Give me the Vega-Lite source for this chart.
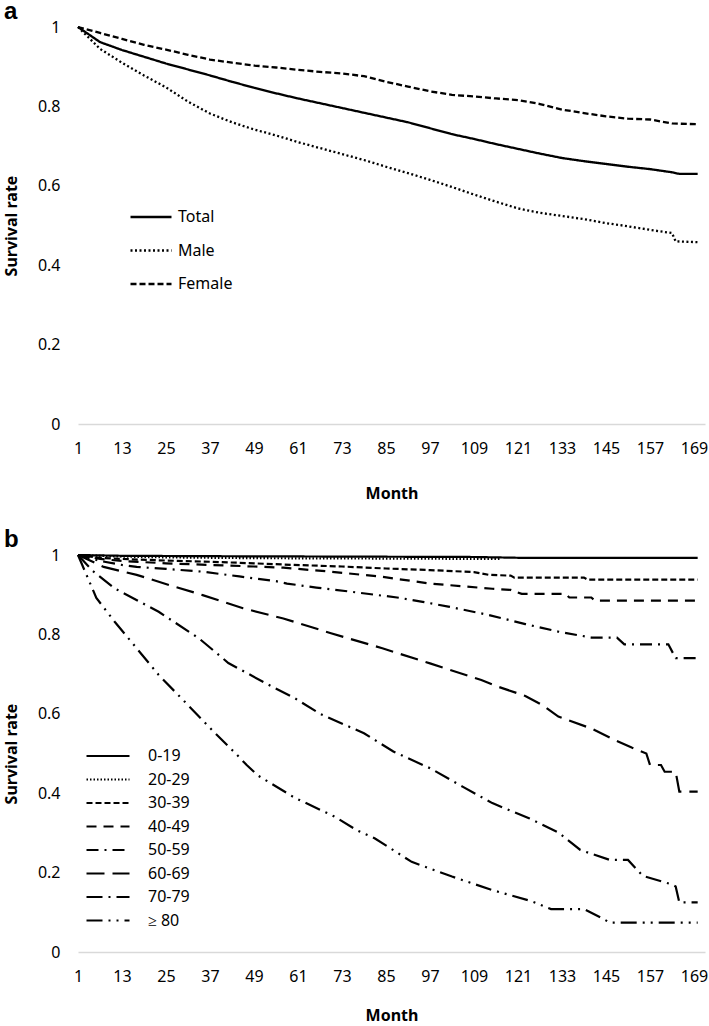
{
  "$schema": "https://vega.github.io/schema/vega-lite/v6.json",
  "padding": {"left": 3, "top": 0, "right": 0, "bottom": 0},
  "background": "white",
  "config": {"view": {"stroke": null}, "font": "Noto Sans"},
  "spacing": 27,
  "resolve": {"scale": {"strokeDash": "independent", "x": "independent", "y": "independent"}, "legend": {"strokeDash": "independent"}},
  "datasets": {
    "a": [
      {"g":"Total","m":1,"s":1},{"g":"Total","m":7,"s":0.962},{"g":"Total","m":13,"s":0.942},{"g":"Total","m":19,"s":0.925},{"g":"Total","m":25,"s":0.908},{"g":"Total","m":31,"s":0.893},{"g":"Total","m":37,"s":0.878},{"g":"Total","m":43,"s":0.862},{"g":"Total","m":49,"s":0.847},{"g":"Total","m":55,"s":0.833},{"g":"Total","m":61,"s":0.82},{"g":"Total","m":67,"s":0.808},{"g":"Total","m":73,"s":0.796},{"g":"Total","m":79,"s":0.784},{"g":"Total","m":85,"s":0.772},{"g":"Total","m":91,"s":0.76},{"g":"Total","m":97,"s":0.745},{"g":"Total","m":103,"s":0.73},{"g":"Total","m":109,"s":0.718},{"g":"Total","m":115,"s":0.705},{"g":"Total","m":121,"s":0.693},{"g":"Total","m":127,"s":0.681},{"g":"Total","m":133,"s":0.67},{"g":"Total","m":139,"s":0.662},{"g":"Total","m":145,"s":0.655},{"g":"Total","m":151,"s":0.648},{"g":"Total","m":157,"s":0.642},{"g":"Total","m":163,"s":0.634},{"g":"Total","m":165,"s":0.63},{"g":"Total","m":170,"s":0.63},
      {"g":"Male","m":1,"s":1},{"g":"Male","m":7,"s":0.945},{"g":"Male","m":13,"s":0.91},{"g":"Male","m":19,"s":0.878},{"g":"Male","m":25,"s":0.848},{"g":"Male","m":31,"s":0.812},{"g":"Male","m":37,"s":0.782},{"g":"Male","m":43,"s":0.76},{"g":"Male","m":49,"s":0.742},{"g":"Male","m":55,"s":0.727},{"g":"Male","m":61,"s":0.71},{"g":"Male","m":67,"s":0.695},{"g":"Male","m":73,"s":0.68},{"g":"Male","m":79,"s":0.665},{"g":"Male","m":85,"s":0.648},{"g":"Male","m":91,"s":0.632},{"g":"Male","m":97,"s":0.615},{"g":"Male","m":103,"s":0.597},{"g":"Male","m":109,"s":0.578},{"g":"Male","m":115,"s":0.56},{"g":"Male","m":121,"s":0.543},{"g":"Male","m":127,"s":0.532},{"g":"Male","m":133,"s":0.524},{"g":"Male","m":139,"s":0.516},{"g":"Male","m":145,"s":0.506},{"g":"Male","m":151,"s":0.498},{"g":"Male","m":157,"s":0.489},{"g":"Male","m":163,"s":0.481},{"g":"Male","m":164,"s":0.46},{"g":"Male","m":170,"s":0.458},
      {"g":"Female","m":1,"s":1},{"g":"Female","m":7,"s":0.985},{"g":"Female","m":13,"s":0.97},{"g":"Female","m":19,"s":0.955},{"g":"Female","m":25,"s":0.943},{"g":"Female","m":31,"s":0.93},{"g":"Female","m":37,"s":0.918},{"g":"Female","m":43,"s":0.91},{"g":"Female","m":49,"s":0.903},{"g":"Female","m":55,"s":0.898},{"g":"Female","m":61,"s":0.892},{"g":"Female","m":67,"s":0.887},{"g":"Female","m":73,"s":0.883},{"g":"Female","m":79,"s":0.876},{"g":"Female","m":85,"s":0.862},{"g":"Female","m":91,"s":0.85},{"g":"Female","m":97,"s":0.838},{"g":"Female","m":103,"s":0.829},{"g":"Female","m":109,"s":0.825},{"g":"Female","m":115,"s":0.82},{"g":"Female","m":121,"s":0.816},{"g":"Female","m":127,"s":0.806},{"g":"Female","m":133,"s":0.792},{"g":"Female","m":139,"s":0.783},{"g":"Female","m":145,"s":0.775},{"g":"Female","m":151,"s":0.769},{"g":"Female","m":157,"s":0.767},{"g":"Female","m":163,"s":0.757},{"g":"Female","m":170,"s":0.755}
    ],
    "b": [
      {"g":"0-19","m":1,"s":1},{"g":"0-19","m":13,"s":0.998},{"g":"0-19","m":37,"s":0.997},{"g":"0-19","m":73,"s":0.996},{"g":"0-19","m":109,"s":0.995},{"g":"0-19","m":121,"s":0.993},{"g":"0-19","m":170,"s":0.993},
      {"g":"20-29","m":1,"s":1},{"g":"20-29","m":13,"s":0.996},{"g":"20-29","m":25,"s":0.994},{"g":"20-29","m":49,"s":0.992},{"g":"20-29","m":85,"s":0.991},{"g":"20-29","m":116,"s":0.99},
      {"g":"30-39","m":1,"s":1},{"g":"30-39","m":7,"s":0.993},{"g":"30-39","m":13,"s":0.99},{"g":"30-39","m":25,"s":0.986},{"g":"30-39","m":37,"s":0.983},{"g":"30-39","m":49,"s":0.979},{"g":"30-39","m":57,"s":0.976},{"g":"30-39","m":73,"s":0.971},{"g":"30-39","m":85,"s":0.966},{"g":"30-39","m":97,"s":0.962},{"g":"30-39","m":109,"s":0.957},{"g":"30-39","m":113,"s":0.95},{"g":"30-39","m":119,"s":0.948},{"g":"30-39","m":120,"s":0.943},{"g":"30-39","m":139,"s":0.943},{"g":"30-39","m":140,"s":0.938},{"g":"30-39","m":170,"s":0.938},
      {"g":"40-49","m":1,"s":1},{"g":"40-49","m":7,"s":0.99},{"g":"40-49","m":13,"s":0.985},{"g":"40-49","m":25,"s":0.979},{"g":"40-49","m":37,"s":0.975},{"g":"40-49","m":49,"s":0.971},{"g":"40-49","m":57,"s":0.968},{"g":"40-49","m":70,"s":0.958},{"g":"40-49","m":84,"s":0.945},{"g":"40-49","m":97,"s":0.928},{"g":"40-49","m":114,"s":0.915},{"g":"40-49","m":119,"s":0.912},{"g":"40-49","m":122,"s":0.902},{"g":"40-49","m":134,"s":0.902},{"g":"40-49","m":135,"s":0.893},{"g":"40-49","m":141,"s":0.893},{"g":"40-49","m":142,"s":0.885},{"g":"40-49","m":170,"s":0.885},
      {"g":"50-59","m":1,"s":1},{"g":"50-59","m":7,"s":0.985},{"g":"50-59","m":13,"s":0.975},{"g":"50-59","m":17,"s":0.97},{"g":"50-59","m":25,"s":0.965},{"g":"50-59","m":35,"s":0.958},{"g":"50-59","m":45,"s":0.946},{"g":"50-59","m":55,"s":0.934},{"g":"50-59","m":58,"s":0.928},{"g":"50-59","m":66,"s":0.918},{"g":"50-59","m":75,"s":0.908},{"g":"50-59","m":88,"s":0.893},{"g":"50-59","m":95,"s":0.882},{"g":"50-59","m":102,"s":0.87},{"g":"50-59","m":113,"s":0.849},{"g":"50-59","m":123,"s":0.826},{"g":"50-59","m":132,"s":0.807},{"g":"50-59","m":141,"s":0.792},{"g":"50-59","m":148,"s":0.792},{"g":"50-59","m":150,"s":0.775},{"g":"50-59","m":162,"s":0.775},{"g":"50-59","m":164,"s":0.74},{"g":"50-59","m":170,"s":0.74},
      {"g":"60-69","m":1,"s":1},{"g":"60-69","m":8,"s":0.97},{"g":"60-69","m":17,"s":0.95},{"g":"60-69","m":26,"s":0.924},{"g":"60-69","m":35,"s":0.899},{"g":"60-69","m":46,"s":0.866},{"g":"60-69","m":57,"s":0.84},{"g":"60-69","m":70,"s":0.803},{"g":"60-69","m":84,"s":0.765},{"g":"60-69","m":97,"s":0.727},{"g":"60-69","m":111,"s":0.685},{"g":"60-69","m":115,"s":0.67},{"g":"60-69","m":123,"s":0.645},{"g":"60-69","m":128,"s":0.62},{"g":"60-69","m":132,"s":0.593},{"g":"60-69","m":141,"s":0.563},{"g":"60-69","m":146,"s":0.54},{"g":"60-69","m":152,"s":0.515},{"g":"60-69","m":156,"s":0.5},{"g":"60-69","m":157,"s":0.471},{"g":"60-69","m":160,"s":0.471},{"g":"60-69","m":161,"s":0.454},{"g":"60-69","m":164,"s":0.454},{"g":"60-69","m":165,"s":0.404},{"g":"60-69","m":170,"s":0.404},
      {"g":"70-79","m":1,"s":1},{"g":"70-79","m":5,"s":0.96},{"g":"70-79","m":11,"s":0.916},{"g":"70-79","m":23,"s":0.857},{"g":"70-79","m":34,"s":0.79},{"g":"70-79","m":42,"s":0.728},{"g":"70-79","m":54,"s":0.668},{"g":"70-79","m":60,"s":0.64},{"g":"70-79","m":67,"s":0.6},{"g":"70-79","m":79,"s":0.551},{"g":"70-79","m":87,"s":0.505},{"g":"70-79","m":97,"s":0.463},{"g":"70-79","m":106,"s":0.416},{"g":"70-79","m":114,"s":0.375},{"g":"70-79","m":124,"s":0.337},{"g":"70-79","m":132,"s":0.301},{"g":"70-79","m":138,"s":0.257},{"g":"70-79","m":146,"s":0.232},{"g":"70-79","m":151,"s":0.232},{"g":"70-79","m":155,"s":0.192},{"g":"70-79","m":163,"s":0.17},{"g":"70-79","m":164,"s":0.165},{"g":"70-79","m":165,"s":0.125},{"g":"70-79","m":170,"s":0.125},
      {"g":"≥ 80","m":1,"s":1},{"g":"≥ 80","m":6,"s":0.892},{"g":"≥ 80","m":11,"s":0.832},{"g":"≥ 80","m":17,"s":0.765},{"g":"≥ 80","m":23,"s":0.698},{"g":"≥ 80","m":31,"s":0.622},{"g":"≥ 80","m":38,"s":0.555},{"g":"≥ 80","m":44,"s":0.5},{"g":"≥ 80","m":47,"s":0.471},{"g":"≥ 80","m":50,"s":0.445},{"g":"≥ 80","m":60,"s":0.389},{"g":"≥ 80","m":71,"s":0.341},{"g":"≥ 80","m":77,"s":0.307},{"g":"≥ 80","m":82,"s":0.286},{"g":"≥ 80","m":92,"s":0.227},{"g":"≥ 80","m":103,"s":0.19},{"g":"≥ 80","m":114,"s":0.156},{"g":"≥ 80","m":125,"s":0.127},{"g":"≥ 80","m":130,"s":0.108},{"g":"≥ 80","m":139,"s":0.108},{"g":"≥ 80","m":144,"s":0.085},{"g":"≥ 80","m":146,"s":0.074},{"g":"≥ 80","m":170,"s":0.074}
    ]
  },
  "vconcat": [
    {
      "width": 627,
      "height": 397,
      "title": {"text": "a", "anchor": "start", "frame": "group", "font": "Liberation Sans", "fontSize": 24, "fontWeight": "bold", "color": "black", "dx": -74, "offset": -5},
      "data": {"name": "a"},
      "mark": {"type": "line", "color": "black", "strokeWidth": 2.3},
      "encoding": {
        "x": {"field": "m", "type": "quantitative", "scale": {"domain": [1, 172], "nice": false, "zero": false},
          "axis": {"values": [1,13,25,37,49,61,73,85,97,109,121,133,145,157,169], "title": "Month", "titleFont": "Noto Sans", "titleFontSize": 16, "titleFontWeight": "bold", "titleColor": "black", "titlePadding": 29, "labelFont": "Noto Sans", "labelFontSize": 16, "labelColor": "black", "labelPadding": 16, "labelOverlap": false, "labelFlush": false, "ticks": false, "grid": false, "domainColor": "#d9d9d9", "domainWidth": 1.3}},
        "y": {"field": "s", "type": "quantitative", "scale": {"domain": [0, 1], "nice": false},
          "axis": {"values": [0,0.2,0.4,0.6,0.8,1], "format": "~g", "title": "Survival rate", "titleFont": "Noto Sans", "titleFontSize": 16, "titleFontWeight": "bold", "titleColor": "black", "titlePadding": 18, "labelFont": "Noto Sans", "labelFontSize": 16, "labelColor": "black", "labelPadding": 18, "ticks": false, "domain": false, "grid": false}},
        "strokeDash": {"field": "g", "type": "nominal",
          "scale": {"domain": ["Total", "Male", "Female"], "range": [[1, 0], [2, 2.5], [6, 3]]},
          "legend": {"title": null, "orient": "none", "legendX": 52.5, "legendY": 182, "direction": "vertical", "symbolType": "M-4.1,0H4.1", "symbolSize": 100, "symbolOffset": 12.5, "symbolStrokeWidth": 2.5, "symbolStrokeColor": "black", "symbolFillColor": "transparent", "labelFont": "Noto Sans", "labelFontSize": 16, "labelColor": "black", "labelOffset": 19, "rowPadding": 17.5, "padding": 0}},
        "order": {"field": "m", "type": "quantitative"}
      }
    },
    {
      "width": 627,
      "height": 397,
      "title": {"text": "b", "anchor": "start", "frame": "group", "font": "Liberation Sans", "fontSize": 24, "fontWeight": "bold", "color": "black", "dx": -74, "offset": -5},
      "data": {"name": "b"},
      "mark": {"type": "line", "color": "black", "strokeWidth": 2.2},
      "encoding": {
        "x": {"field": "m", "type": "quantitative", "scale": {"domain": [1, 172], "nice": false, "zero": false},
          "axis": {"values": [1,13,25,37,49,61,73,85,97,109,121,133,145,157,169], "title": "Month", "titleFont": "Noto Sans", "titleFontSize": 16, "titleFontWeight": "bold", "titleColor": "black", "titlePadding": 23, "labelFont": "Noto Sans", "labelFontSize": 16, "labelColor": "black", "labelPadding": 16, "labelOverlap": false, "labelFlush": false, "ticks": false, "grid": false, "domainColor": "#d9d9d9", "domainWidth": 1.3}},
        "y": {"field": "s", "type": "quantitative", "scale": {"domain": [0, 1], "nice": false},
          "axis": {"values": [0,0.2,0.4,0.6,0.8,1], "format": "~g", "title": "Survival rate", "titleFont": "Noto Sans", "titleFontSize": 16, "titleFontWeight": "bold", "titleColor": "black", "titlePadding": 18, "labelFont": "Noto Sans", "labelFontSize": 16, "labelColor": "black", "labelPadding": 18, "ticks": false, "domain": false, "grid": false}},
        "strokeDash": {"field": "g", "type": "nominal",
          "scale": {"domain": ["0-19", "20-29", "30-39", "40-49", "50-59", "60-69", "70-79", "≥ 80"], "range": [[1, 0], [1.5, 2], [6, 3], [10, 7], [12, 6, 2, 6], [18, 8], [16, 6, 2, 6], [16, 6, 2, 6, 2, 6]]},
          "legend": {"title": null, "orient": "none", "legendX": 8.5, "legendY": 193, "direction": "vertical", "symbolType": "M-4.3,0H4.3", "symbolSize": 100, "symbolOffset": 13.5, "symbolStrokeWidth": 2.2, "symbolStrokeColor": "black", "symbolFillColor": "transparent", "labelFont": "Noto Sans", "labelFontSize": 16, "labelColor": "black", "labelOffset": 32, "rowPadding": 7.5, "padding": 0}},
        "order": {"field": "m", "type": "quantitative"}
      }
    }
  ]
}
